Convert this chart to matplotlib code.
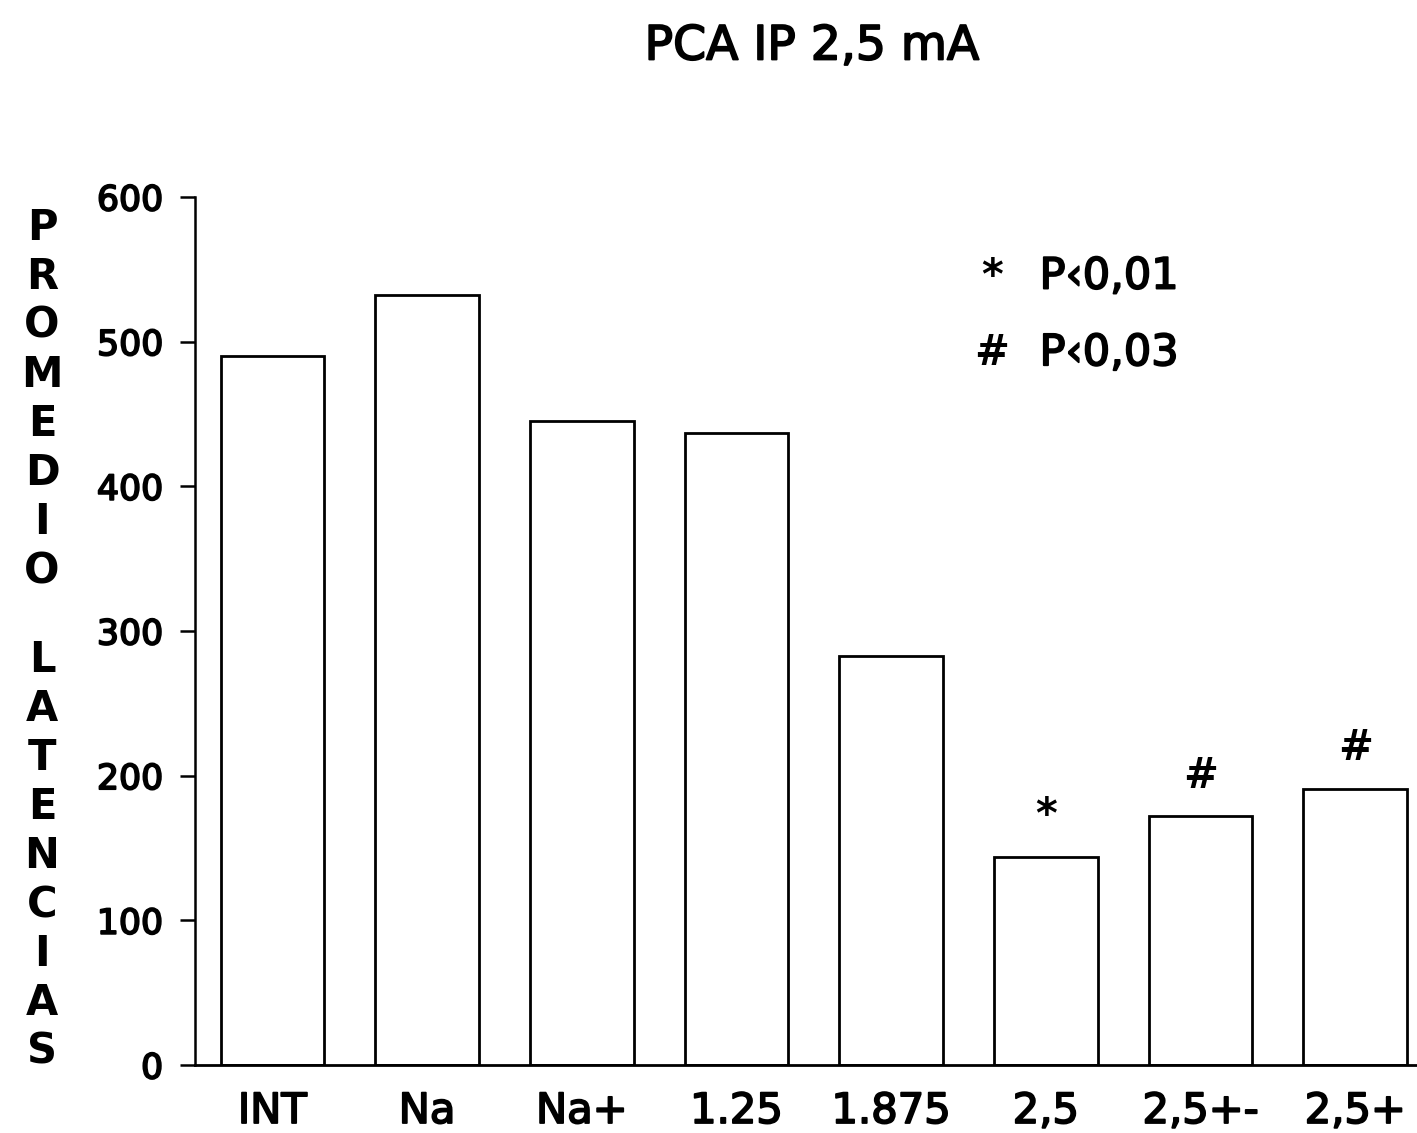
import matplotlib
matplotlib.use('Agg')
import matplotlib.pyplot as plt
import matplotlib.patheffects as pe

# bar data
groups = ['INT', 'Na', 'Na+', '1.25', '1.875', '2,5', '2,5+-', '2,5+']
latencias = [490, 532, 445, 437, 283, 144, 172, 191]
marcas = ['', '', '', '', '', '*', '#', '#']
ley_simbolos = ['*', '#']
ley_textos = ['P\u20390,01', 'P\u20390,03']
ley_y = [545, 492]
ylab = 'PROMEDIO LATENCIAS'

plt.rcParams['font.family'] = ['DejaVu Sans']
# photocopied look: slightly heavier strokes than the regular weight
grueso = [pe.withStroke(linewidth=1.3, foreground='black')]

fig = plt.figure(figsize=(14.17, 11.33), dpi=100)
ax = fig.add_axes([195 / 1417, 68 / 1133, 1 - 195 / 1417, 868 / 1133])

x = range(len(groups))
ax.bar(x, latencias, width=0.67, color='white', edgecolor='black', linewidth=2.0)

for i, m in enumerate(marcas):
    if m:
        ax.text(i, latencias[i] + 28, m, ha='center', va='center',
                fontsize=30, fontweight='bold')

ax.set_xlim(-0.5, 7.40)
ax.set_ylim(0, 600)
ax.set_yticks(range(0, 601, 100))
ax.set_xticks(list(x))
ax.set_xticklabels(groups, fontsize=30)
ax.tick_params(axis='x', length=0, pad=18)
ax.tick_params(axis='y', length=11, width=1.8, pad=12, labelsize=25)
for lab in ax.get_xticklabels() + ax.get_yticklabels():
    lab.set_path_effects(grueso)

ax.spines['top'].set_visible(False)
ax.spines['right'].set_visible(False)
ax.spines['left'].set_linewidth(1.8)
ax.spines['bottom'].set_linewidth(2.0)

# significance key
for s, t, yy in zip(ley_simbolos, ley_textos, ley_y):
    ax.text(4.65, yy, s, ha='center', va='center', fontsize=30, fontweight='bold')
    ax.text(4.96, yy, t, ha='left', va='center', fontsize=31, path_effects=grueso)

fig.text(812 / 1417, 1 - 47 / 1133, 'PCA IP 2,5 mA', ha='center', va='center',
         fontsize=34, path_effects=grueso)

# stacked vertical axis label
ypos = 228
for ch in ylab:
    if ch == ' ':
        ypos += 40
        continue
    fig.text(42 / 1417, 1 - ypos / 1133, ch, ha='center', va='center',
             fontsize=30, fontweight='bold')
    ypos += 49

fig.savefig('out.png', dpi=100)
